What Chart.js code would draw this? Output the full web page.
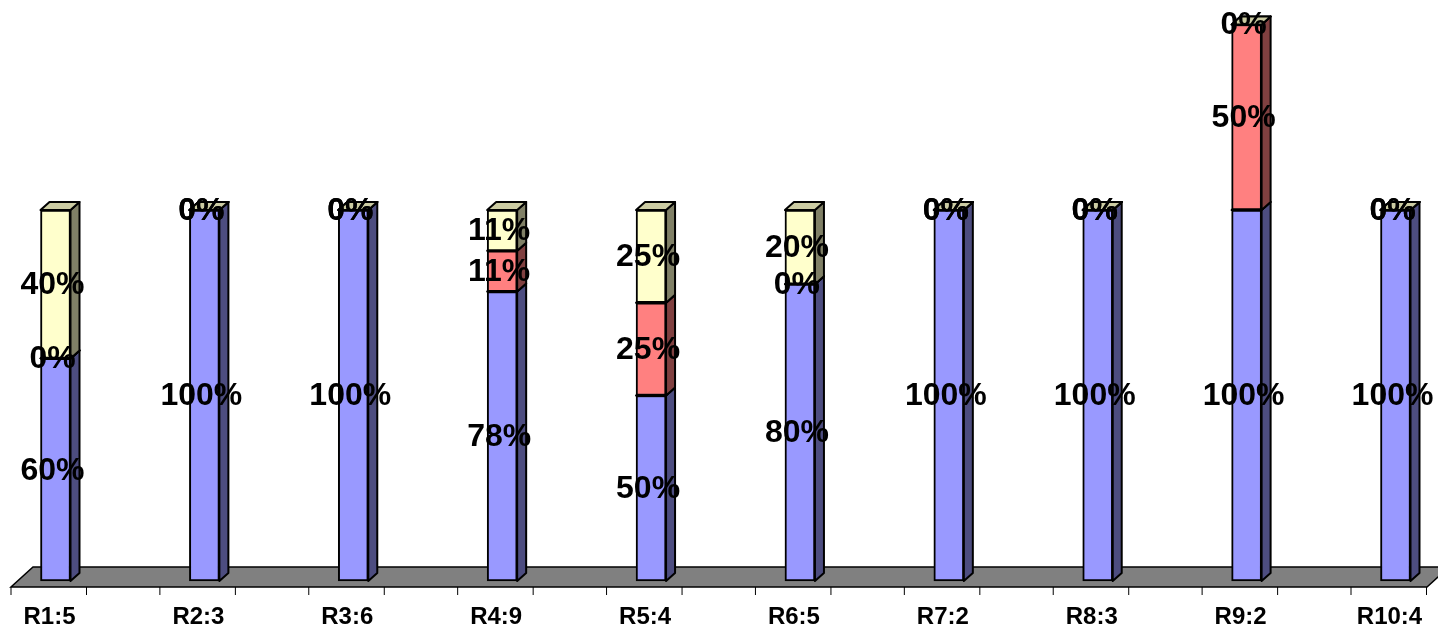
<!DOCTYPE html>
<html>
<head>
  <meta charset="UTF-8">
  <title>R chart</title>
  <script src="https://cdn.jsdelivr.net/npm/chart.js"></script>
  <style>
    html, body { margin: 0; padding: 0; background: #fff; }
    #wrap { width: 1438px; height: 631px; position: relative; }
  </style>
</head>
<body>
  <div id="wrap"><canvas id="chart"></canvas></div>

  <script>
    const categories = ['R1:5', 'R2:3', 'R3:6', 'R4:9', 'R5:4', 'R6:5', 'R7:2', 'R8:3', 'R9:2', 'R10:4'];
    const blueVals   = [60, 100, 100, 78, 50, 80, 100, 100, 100, 100];
    const redVals    = [0, 0, 0, 11, 25, 0, 0, 0, 50, 0];
    const yellowVals = [40, 0, 0, 11, 25, 20, 0, 0, 0, 0];

    // 3d look: front colour, side colour, top colour
    const faceColors = [
      { front: '#9999FF', side: '#4D4D80', top: '#7A7ACC' },
      { front: '#FF8080', side: '#804040', top: '#CC6666' },
      { front: '#FFFFCC', side: '#808066', top: '#CCCCA3' }
    ];
    const dx = 9, dy = 8;

    const threeD = {
      id: 'threeD',
      beforeDatasetsDraw(chart) {
        const ctx = chart.ctx;
        const xs = chart.scales.x;
        const bottom = chart.chartArea.bottom;
        const n = categories.length;
        const xL = xs.getPixelForValue(0) - 44.5;
        const xR = xs.getPixelForValue(n - 1) + 31.5;

        ctx.save();
        // floor
        ctx.beginPath();
        ctx.moveTo(xL, bottom + 6);
        ctx.lineTo(xR, bottom + 6);
        ctx.lineTo(xR + 22, bottom - 14);
        ctx.lineTo(xL + 22, bottom - 14);
        ctx.closePath();
        ctx.fillStyle = '#808080';
        ctx.fill();
        ctx.strokeStyle = '#000';
        ctx.lineWidth = 1.5;
        ctx.stroke();

        // tick marks under the floor
        ctx.beginPath();
        for (let i = 0; i < n; i++) {
          const cx = xs.getPixelForValue(i);
          [cx - 44.5, cx + 31].forEach(t => {
            ctx.moveTo(t, bottom + 6);
            ctx.lineTo(t, bottom + 14);
          });
        }
        ctx.lineWidth = 1;
        ctx.stroke();

        // sides and tops
        ctx.lineWidth = 2;
        ctx.lineJoin = 'round';
        chart.data.datasets.forEach((ds, di) => {
          const meta = chart.getDatasetMeta(di);
          const col = faceColors[di];
          meta.data.forEach(el => {
            const p = el.getProps(['x', 'y', 'base', 'width'], true);
            const x0 = p.x - p.width / 2, x1 = p.x + p.width / 2;
            const yt = Math.min(p.y, p.base), yb = Math.max(p.y, p.base);
            ctx.beginPath();
            ctx.moveTo(x1, yt);
            ctx.lineTo(x1 + dx, yt - dy);
            ctx.lineTo(x1 + dx, yb - dy);
            ctx.lineTo(x1, yb);
            ctx.closePath();
            ctx.fillStyle = col.side;
            ctx.fill();
            ctx.stroke();

            ctx.beginPath();
            ctx.moveTo(x0, yt);
            ctx.lineTo(x1, yt);
            ctx.lineTo(x1 + dx, yt - dy);
            ctx.lineTo(x0 + dx, yt - dy);
            ctx.closePath();
            ctx.fillStyle = col.top;
            ctx.fill();
            ctx.stroke();
          });
        });
        ctx.restore();
      },
      afterDatasetsDraw(chart) {
        const ctx = chart.ctx;
        ctx.save();
        ctx.font = 'bold 32px "Liberation Sans", Arial, sans-serif';
        ctx.fillStyle = '#000';
        ctx.textAlign = 'center';
        ctx.textBaseline = 'middle';
        chart.data.datasets.forEach((ds, di) => {
          const meta = chart.getDatasetMeta(di);
          meta.data.forEach((el, j) => {
            const p = el.getProps(['x', 'y', 'base'], true);
            ctx.fillText(ds.data[j] + '%', p.x - 3, (p.y + p.base) / 2 + 1);
          });
        });
        ctx.restore();
      }
    };

    const mkSet = (vals, di) => ({
      data: vals,
      backgroundColor: faceColors[di].front,
      borderColor: '#000',
      borderWidth: 2,
      borderSkipped: false,
      barThickness: 30,
      clip: false
    });

    new Chart(document.getElementById('chart'), {
      type: 'bar',
      data: {
        labels: categories,
        datasets: [mkSet(blueVals, 0), mkSet(redVals, 1), mkSet(yellowVals, 2)]
      },
      options: {
        responsive: true,
        maintainAspectRatio: false,
        animation: false,
        layout: { padding: { left: 55.5, right: 42.5, top: 24.5, bottom: 0 } },
        plugins: { legend: { display: false }, tooltip: { enabled: false } },
        scales: {
          x: {
            stacked: true,
            offset: false,
            grid: { display: false, drawTicks: false },
            border: { display: false },
            ticks: {
              color: '#000',
              padding: 22,
              labelOffset: -6,
              maxRotation: 0,
              autoSkip: false,
              font: { family: '"Liberation Sans", Arial, sans-serif', size: 24, weight: 'bold' }
            },
            afterFit(scale) {
              scale.height = 50;
              scale.paddingLeft = 0;
              scale.paddingRight = 0;
            }
          },
          y: {
            stacked: true,
            display: false,
            min: 0,
            max: 150
          }
        }
      },
      plugins: [threeD]
    });
  </script>
</body>
</html>
